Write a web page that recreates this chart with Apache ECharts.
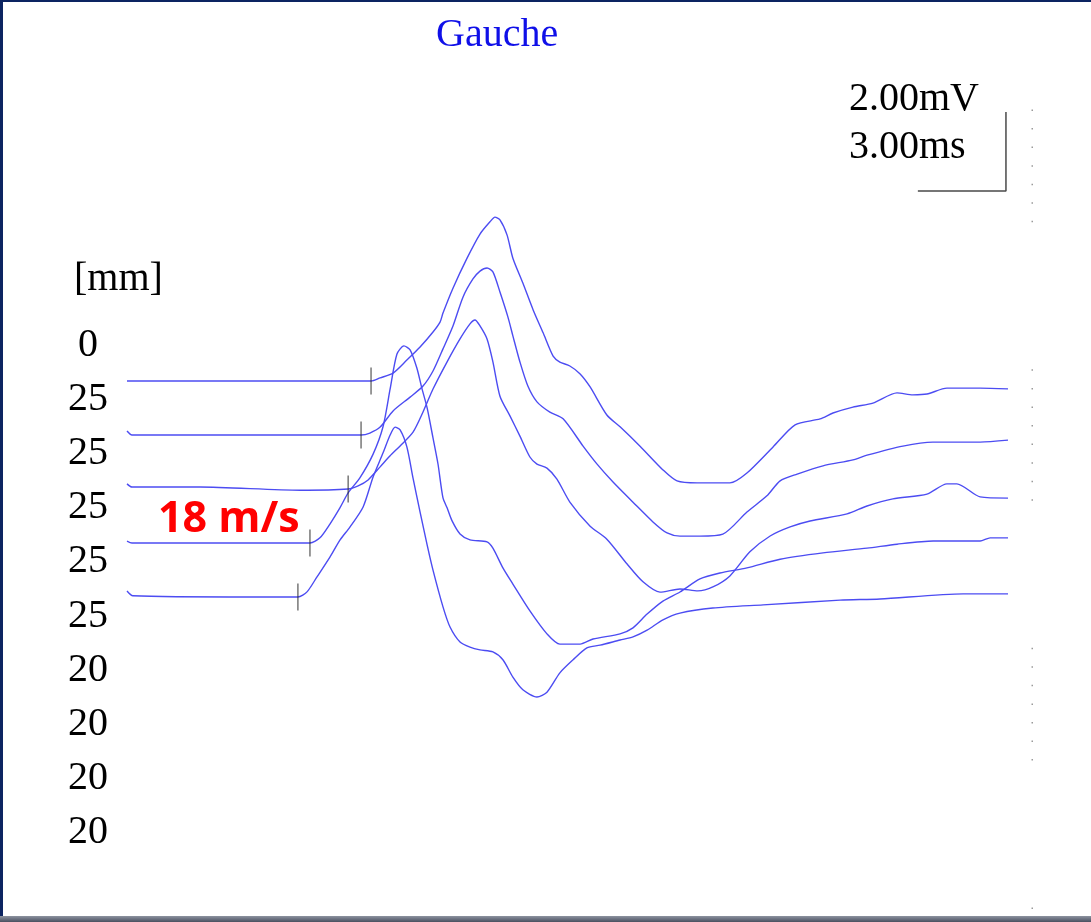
<!DOCTYPE html>
<html>
<head>
<meta charset="utf-8">
<script src="https://cdn.jsdelivr.net/npm/echarts@6/dist/echarts.min.js"></script>
<style>
  html, body { margin: 0; padding: 0; background: #ffffff; }
  #chart { width: 1091px; height: 922px; }
</style>
</head>
<body>
<div id="chart"></div>
<script>
// Nerve conduction recording, left side: five traces, [time ms, amplitude mV]
// relative to each trace's own baseline.
const trace1 = [[0,0],[2.49,0],[5.89,0],[8.31,0],[8.62,0.08],[9.06,0.20],[9.53,0.53],[9.98,0.86],[10.42,1.24],[10.66,1.49],[10.76,1.72],[11.10,2.35],[11.58,3.11],[12.02,3.72],[12.36,4.03],[12.53,4.15],[12.70,4.08],[12.94,3.70],[13.14,3.11],[13.48,2.48],[13.83,1.80],[14.17,1.22],[14.51,0.63],[14.74,0.48],[15.08,0.38],[15.43,0.18],[15.77,-0.15],[16.34,-0.86],[16.79,-1.16],[17.47,-1.65],[18.25,-2.25],[18.73,-2.53],[19.41,-2.58],[20.53,-2.58],[21.11,-2.33],[22.00,-1.67],[22.75,-1.11],[23.60,-0.96],[24.04,-0.81],[24.72,-0.66],[25.40,-0.56],[26.22,-0.30],[26.76,-0.35],[27.24,-0.33],[27.92,-0.18],[29.05,-0.18],[30.00,-0.20]];
const trace2 = [[0,0.10],[0.17,0],[4.19,0],[7.97,0],[8.27,0.05],[8.62,0.20],[9.06,0.61],[9.64,0.96],[10.08,1.24],[10.42,1.62],[10.76,2.18],[11.10,2.76],[11.44,3.49],[11.78,3.95],[12.02,4.15],[12.26,4.23],[12.46,4.13],[12.70,3.62],[12.97,2.99],[13.14,2.51],[13.38,1.85],[13.65,1.24],[13.96,0.84],[14.40,0.58],[14.85,0.41],[15.53,-0.28],[16.00,-0.73],[16.55,-1.19],[17.23,-1.70],[17.91,-2.20],[18.39,-2.48],[18.83,-2.56],[19.51,-2.56],[20.29,-2.51],[21.11,-1.95],[21.79,-1.54],[22.24,-1.16],[22.82,-0.99],[23.70,-0.78],[24.72,-0.63],[25.20,-0.51],[26.42,-0.28],[27.44,-0.18],[29.05,-0.18],[30.00,-0.13]];
const trace3 = [[0,0.13],[0.17,0.05],[2.49,0.05],[5.89,-0.03],[7.53,0],[7.87,0.08],[8.21,0.23],[8.62,0.56],[8.96,0.84],[9.30,1.09],[9.74,1.44],[10.08,1.95],[10.42,2.53],[10.90,3.22],[11.34,3.80],[11.68,4.18],[11.85,4.28],[12.02,4.13],[12.26,3.80],[12.46,3.22],[12.70,2.35],[13.04,1.85],[13.38,1.34],[13.72,0.81],[13.96,0.63],[14.30,0.53],[14.64,0.25],[15.08,-0.33],[15.77,-0.94],[16.34,-1.27],[17.03,-1.90],[17.57,-2.35],[18.15,-2.61],[18.83,-2.53],[19.44,-2.58],[19.95,-2.48],[20.53,-2.20],[21.21,-1.59],[21.90,-1.19],[22.58,-0.96],[23.26,-0.81],[24.52,-0.63],[25.20,-0.43],[26.08,-0.25],[27.24,-0.13],[27.92,0.13],[28.26,0.13],[29.05,-0.20],[30.00,-0.23]];
const trace4 = [[0,0.05],[0.17,0],[4.19,0],[6.23,0],[6.57,0.13],[6.91,0.48],[7.25,0.89],[7.53,1.27],[7.93,1.65],[8.38,2.25],[8.72,2.95],[8.96,3.90],[9.19,4.78],[9.43,4.99],[9.64,4.89],[9.87,4.43],[10.04,3.92],[10.22,3.42],[10.42,2.66],[10.59,2.00],[10.76,1.14],[10.90,0.89],[11.07,0.56],[11.34,0.23],[11.68,0.08],[12.26,0.03],[12.46,-0.13],[12.80,-0.63],[13.14,-1.04],[13.72,-1.72],[14.30,-2.30],[14.74,-2.56],[15.43,-2.56],[15.87,-2.43],[16.79,-2.30],[17.23,-2.15],[17.71,-1.80],[18.25,-1.47],[18.83,-1.24],[19.51,-0.91],[20.19,-0.76],[21.11,-0.63],[22.24,-0.41],[23.70,-0.25],[25.20,-0.13],[26.22,-0.03],[27.45,0.05],[29.05,0.05],[29.39,0.13],[30.00,0.13]];
const trace5 = [[0,0.15],[0.20,0.03],[4.19,0],[5.82,0],[6.13,0.13],[6.47,0.51],[6.91,1.01],[7.25,1.44],[7.59,1.77],[8.04,2.28],[8.38,3.04],[8.72,3.65],[8.96,4.10],[9.13,4.30],[9.30,4.23],[9.53,3.80],[9.74,3.01],[9.98,2.15],[10.22,1.32],[10.42,0.68],[10.76,-0.25],[11.00,-0.76],[11.34,-1.14],[11.68,-1.27],[12.02,-1.34],[12.46,-1.39],[12.80,-1.59],[13.14,-2.03],[13.48,-2.35],[13.96,-2.53],[14.30,-2.41],[14.74,-1.92],[15.19,-1.59],[15.66,-1.29],[16.11,-1.22],[16.79,-1.09],[17.23,-1.01],[17.71,-0.84],[18.25,-0.58],[18.83,-0.41],[19.95,-0.28],[21.66,-0.20],[24.28,-0.08],[25.64,-0.05],[28.47,0.08],[30.00,0.08]];

// Onset latency cursor of each trace (ms)
const onsetMs = [8.31, 7.97, 7.53, 6.23, 5.82];

// Distance column on the left
const distanceLabels = ['0', '25', '25', '25', '25', '25', '20', '20', '20', '20'];
const distanceUnit = '[mm]';

// Calibration
const scaleMv = 2.00;
const scaleMs = 3.00;
const velocityText = '18 m/s';
const titleText = 'Gauche';

// ---- display settings ----
const CHANNEL_GAP_MV = 1.367;        // vertical spacing between stacked traces
const X_MIN = -4.3246, X_MAX = 32.826;
const Y_MIN = -13.696, Y_MAX = 9.646;
const SCALE_CORNER = [29.93, 4.81];  // lower-right corner of the calibration bar
const TRACE_COLOR = '#4c4cf2';
const SERIF = '"Liberation Serif", "Times New Roman", serif';

const traces = [trace1, trace2, trace3, trace4, trace5];

const chart = echarts.init(document.getElementById('chart'), null, { renderer: 'canvas' });

const series = traces.map((tr, k) => ({
  type: 'line',
  xAxisIndex: 0, yAxisIndex: 0,
  data: tr.map(p => [p[0], p[1] - k * CHANNEL_GAP_MV]),
  showSymbol: false,
  smooth: 0.25,
  silent: true,
  lineStyle: { color: TRACE_COLOR, width: 1.4 },
  z: 3
}));

// onset cursors
series.push({
  type: 'scatter',
  xAxisIndex: 0, yAxisIndex: 0,
  data: onsetMs.map((t, k) => [t, -k * CHANNEL_GAP_MV]),
  symbol: 'rect',
  symbolSize: [1.2, 27],
  itemStyle: { color: '#2a2a2a' },
  silent: true,
  z: 4
});

// calibration bar: 3.00 ms horizontal, 2.00 mV vertical
series.push({
  type: 'line',
  xAxisIndex: 0, yAxisIndex: 0,
  data: [
    [SCALE_CORNER[0] - scaleMs, SCALE_CORNER[1]],
    [SCALE_CORNER[0], SCALE_CORNER[1]],
    [SCALE_CORNER[0], SCALE_CORNER[1] + scaleMv]
  ],
  showSymbol: false,
  silent: true,
  lineStyle: { color: '#4a4a4a', width: 1.5 },
  z: 3
});

// dotted frame marker on the right edge
const dots = [];
[0,1,2,3,4,5,6,14,15,16,17,18,19,20,21,29,30,31,32,33,34,35,43].forEach(n => {
  dots.push({ type: 'rect', shape: { x: 1031.5, y: 109.5 + 18.56 * n, width: 1.5, height: 1.5 },
              style: { fill: '#9a9a9a' }, silent: true });
});

chart.setOption({
  animation: false,
  backgroundColor: '#ffffff',
  title: {
    text: titleText,
    left: 436, top: 15, padding: 0,
    textStyle: { fontFamily: SERIF, fontSize: 40, fontWeight: 'normal', color: '#1010e8' }
  },
  grid: [
    { left: 0, right: 0, top: 0, bottom: 0 },
    { left: 127, right: 83, top: 318.5, height: 541 }
  ],
  xAxis: [
    { type: 'value', gridIndex: 0, min: X_MIN, max: X_MAX, show: false },
    { type: 'value', gridIndex: 1, min: 0, max: 30, show: false }
  ],
  yAxis: [
    { type: 'value', gridIndex: 0, min: Y_MIN, max: Y_MAX, show: false },
    {
      type: 'category', gridIndex: 1, inverse: true,
      data: distanceLabels,
      axisLine: { show: false }, axisTick: { show: false }, splitLine: { show: false },
      axisLabel: { margin: 39, align: 'center', fontFamily: SERIF, fontSize: 40, color: '#000000' }
    }
  ],
  series: series,
  graphic: [
    { type: 'text', style: { text: distanceUnit, x: 74, y: 279, font: '40px ' + SERIF, fill: '#000', textVerticalAlign: 'middle' } },
    { type: 'text', style: { text: scaleMv.toFixed(2) + 'mV', x: 849, y: 99, font: '40px ' + SERIF, fill: '#000', textVerticalAlign: 'middle' } },
    { type: 'text', style: { text: scaleMs.toFixed(2) + 'ms', x: 849, y: 147.5, font: '40px ' + SERIF, fill: '#000', textVerticalAlign: 'middle' } },
    { type: 'text', style: { text: velocityText, x: 158, y: 520, font: 'bold 43px "Open Sans", "Liberation Sans", sans-serif', fill: '#ff0000', textVerticalAlign: 'middle' } },
    // window frame
    { type: 'rect', shape: { x: 0, y: 0, width: 1091, height: 2 }, style: { fill: '#0c2461' }, silent: true },
    { type: 'rect', shape: { x: 0, y: 0, width: 3, height: 922 }, style: { fill: '#0c2461' }, silent: true },
    { type: 'rect', shape: { x: 0, y: 916, width: 1091, height: 6 },
      style: { fill: new echarts.graphic.LinearGradient(0, 0, 0, 1, [
        { offset: 0, color: '#8d93a0' }, { offset: 1, color: '#4a5060' }]) }, silent: true }
  ].concat(dots)
});
</script>
</body>
</html>
